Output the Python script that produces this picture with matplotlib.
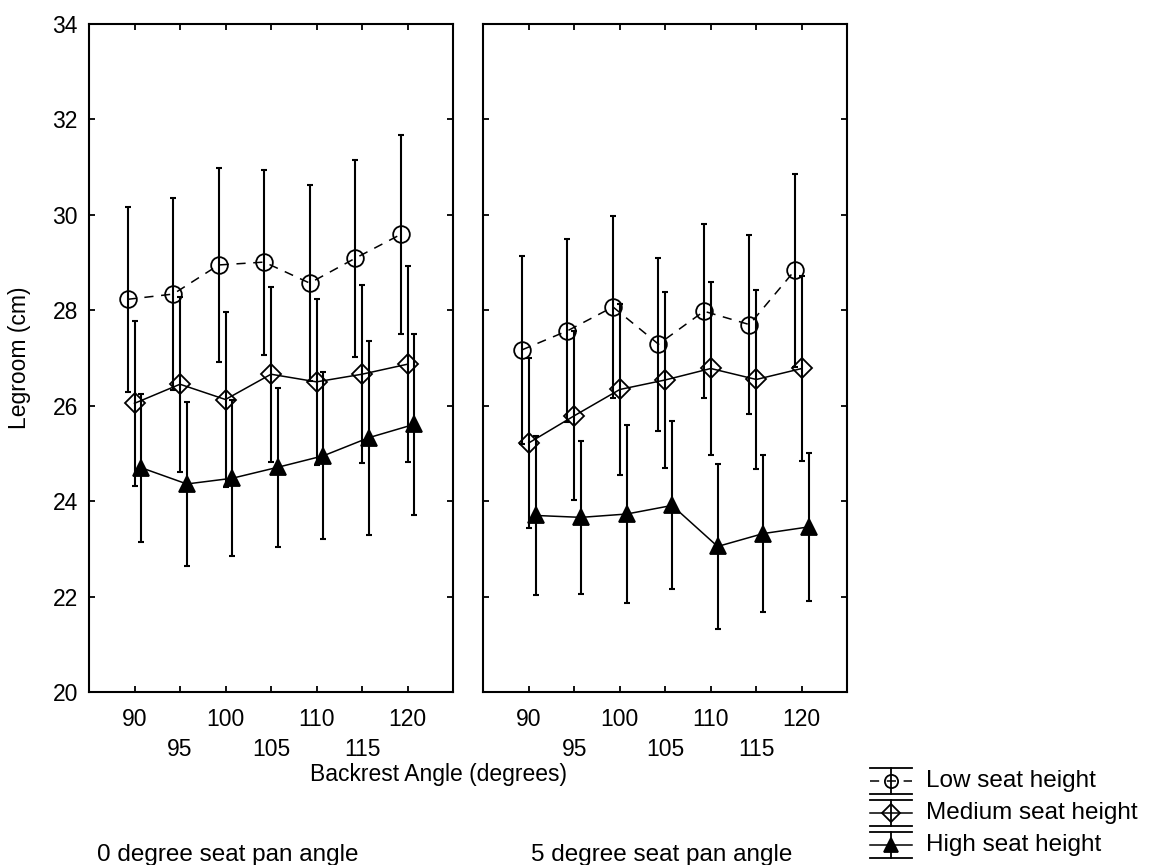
import matplotlib
matplotlib.use("Agg")
from matplotlib import pyplot as plt

angles = ["90", "95", "100", "105", "110", "115", "120"]
series = ["Low seat height", "Medium seat height", "High seat height"]
panels = ["0 degree seat pan angle", "5 degree seat pan angle"]

# 0 degree seat pan angle: means and half-widths of the error bars
low_0 = [28.23, 28.34, 28.95, 29.01, 28.57, 29.09, 29.59]
low_0_err = [1.94, 2.01, 2.04, 1.94, 2.06, 2.06, 2.08]
med_0 = [26.05, 26.45, 26.13, 26.66, 26.50, 26.66, 26.87]
med_0_err = [1.73, 1.83, 1.83, 1.83, 1.74, 1.86, 2.05]
high_0 = [24.70, 24.36, 24.48, 24.71, 24.95, 25.33, 25.61]
high_0_err = [1.55, 1.72, 1.63, 1.67, 1.75, 2.03, 1.90]

# 5 degree seat pan angle
low_5 = [27.17, 27.57, 28.07, 27.29, 27.98, 27.70, 28.84]
low_5_err = [1.97, 1.92, 1.91, 1.81, 1.82, 1.88, 2.02]
med_5 = [25.22, 25.79, 26.34, 26.54, 26.78, 26.55, 26.78]
med_5_err = [1.79, 1.77, 1.80, 1.84, 1.82, 1.87, 1.93]
high_5 = [23.70, 23.66, 23.73, 23.91, 23.05, 23.32, 23.46]
high_5_err = [1.67, 1.60, 1.87, 1.76, 1.73, 1.65, 1.55]

plt.rcParams['font.family'] = ['Liberation Sans', 'DejaVu Sans']

W, H = 1158, 865
# marker, size, fill, linestyle, x offset
styles = [('o', 12, 'none', (0, (6, 5)), -0.15),
          ('D', 10.5, 'none', '-', 0.0),
          ('^', 11, 'black', '-', 0.15)]


def draw_panel(ax, means, errs, first):
    for (m, e), (mk, ms, fc, ls, off) in zip(zip(means, errs), styles):
        x = [i + 1 + off for i in range(len(angles))]
        ax.errorbar(x, m, yerr=e, fmt='none', ecolor='black', elinewidth=1.5,
                    capsize=2.2, capthick=1.5, zorder=2)
        ax.plot(x, m, color='black', lw=1.1, ls=ls, marker=mk, ms=ms,
                mfc=fc, mec='black', mew=1.3, zorder=3)
    ax.set_xlim(0, 8)
    ax.set_ylim(20, 34)
    ax.set_yticks(range(20, 35, 2))
    ax.set_xticks([1, 3, 5, 7], angles[0::2])
    ax.set_xticks([2, 4, 6], angles[1::2], minor=True)
    ax.tick_params(which='both', direction='in', top=True, right=True,
                   length=4, width=1.3, labelsize=16.5)
    ax.tick_params(axis='x', which='major', pad=11.5)
    ax.tick_params(axis='x', which='minor', pad=33)
    ax.tick_params(axis='y', pad=8, labelleft=first)
    for s in ax.spines.values():
        s.set_linewidth(1.5)


fig = plt.figure(figsize=(W / 100, H / 100), dpi=100)
ax0 = fig.add_axes([89 / W, (H - 692) / H, 364 / W, 668 / H])
ax1 = fig.add_axes([483.3 / W, (H - 692) / H, 364 / W, 668 / H])
draw_panel(ax0, [low_0, med_0, high_0], [low_0_err, med_0_err, high_0_err],
           True)
draw_panel(ax1, [low_5, med_5, high_5], [low_5_err, med_5_err, high_5_err],
           False)

fig.text(20 / W, 1 - 358 / H, "Legroom (cm)", rotation=90, ha='center',
         va='center', fontsize=16.5)
fig.text(439 / W, 1 - 775 / H, "Backrest Angle (degrees)", ha='center',
         va='center', fontsize=16.5)
fig.text(96.7 / W, 1 - 861.5 / H, panels[0], ha='left', va='baseline',
         fontsize=17.5)
fig.text(530.7 / W, 1 - 861.5 / H, panels[1], ha='left', va='baseline',
         fontsize=17.5)

# legend drawn in pixel coordinates, Statistica style glyphs
leg = fig.add_axes([0, 0, 1, 1])
leg.set_xlim(0, W)
leg.set_ylim(H, 0)
leg.axis('off')
x0, x1, cx, half = 870, 911.7, 891, 13
leg_ms = [9.5, 9, 9.5]
for name, cy, (mk, ms, fc, ls, off), lms in zip(series, [780.5, 812.8, 844.8],
                                               styles, leg_ms):
    leg.plot([x0, x1], [cy - half, cy - half], color='black', lw=1.3)
    leg.plot([x0, x1], [cy + half, cy + half], color='black', lw=1.3)
    leg.plot([cx, cx], [cy - half, cy + half], color='black', lw=1.3)
    leg.plot([x0, x1], [cy, cy], color='black', lw=1.1, ls=ls)
    leg.plot([cx], [cy], marker=mk, ms=lms, mfc=fc, mec='black', mew=1.3)
    leg.text(926, cy, name, ha='left', va='center', fontsize=17.5)

fig.savefig("out.png", dpi=100)
